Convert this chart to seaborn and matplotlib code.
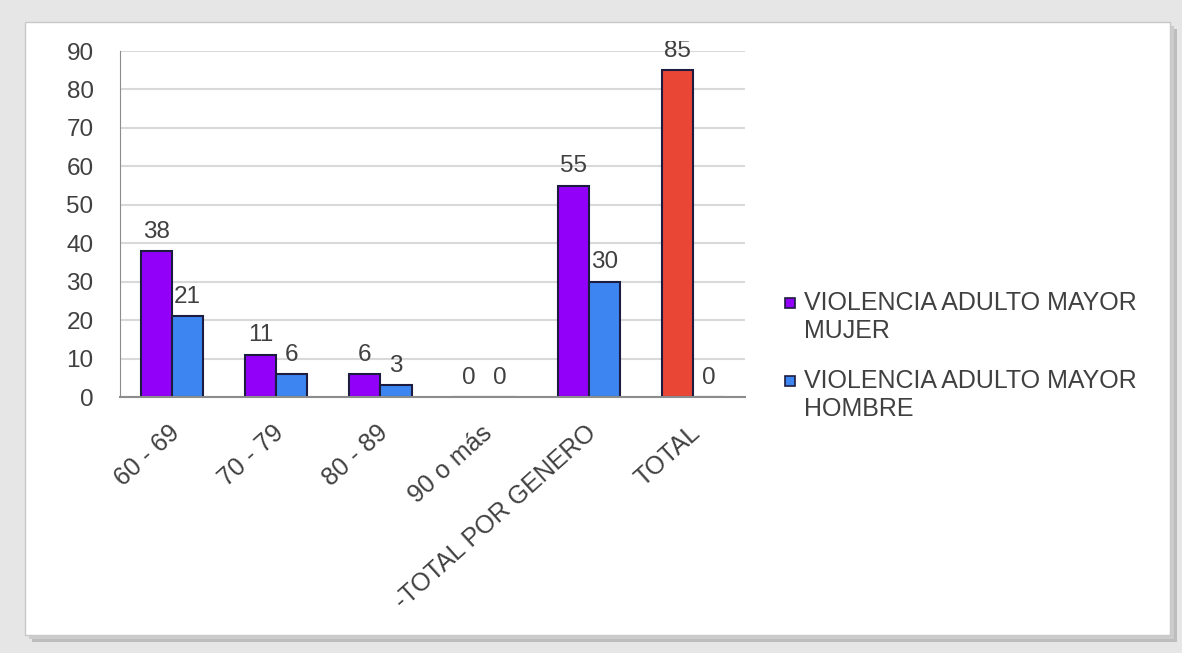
import pandas as pd
import seaborn as sns
import matplotlib.pyplot as plt
from matplotlib.patches import Rectangle
from matplotlib.transforms import Bbox, TransformedBbox, ScaledTranslation

# Data
categories = ["60 - 69", "70 - 79", "80 - 89", "90 o más", "-TOTAL POR GENERO", "TOTAL"]
mujer = [38, 11, 6, 0, 55, 85]
hombre = [21, 6, 3, 0, 30, 0]
series = ["VIOLENCIA ADULTO MAYOR\nMUJER", "VIOLENCIA ADULTO MAYOR\nHOMBRE"]

colors = ["#9200fa", "#3d86f2"]
total_color = "#ea4636"
edge = "#1c1c40"
text_color = "#404040"

df = pd.DataFrame({
    "categoria": categories * 2,
    "serie": [series[0]] * len(categories) + [series[1]] * len(categories),
    "valor": mujer + hombre,
})

sns.set_style("white")
plt.rcParams["font.family"] = ["Liberation Sans", "DejaVu Sans"]

fig = plt.figure(figsize=(11.82, 6.53), dpi=100)
fig.patch.set_facecolor("#e6e6e6")

# white card with a soft shadow
W, H = 1182, 653
for off, col in [(7, "#bdbdbd"), (4, "#cccccc")]:
    fig.add_artist(Rectangle(((25 + off) / W, 1 - (635 + off) / H), 1145 / W, 613 / H,
                             transform=fig.transFigure, facecolor=col, edgecolor="none", zorder=-3))
fig.add_artist(Rectangle((25 / W, 1 - 635 / H), 1145 / W, 613 / H,
                         transform=fig.transFigure, facecolor="white", edgecolor="#c8c8c8",
                         lw=1, zorder=-2))

ax = fig.add_axes([120 / W, 1 - 397 / H, 625 / W, 346 / H])
ax.set_facecolor("none")
ax.set_zorder(2)

sns.barplot(data=df, x="categoria", y="valor", hue="serie", order=categories,
            hue_order=series, palette=colors, saturation=1, width=0.6, gap=0,
            edgecolor=edge, linewidth=1.5, legend=False, ax=ax)

# the TOTAL bar is drawn in red in the original
ax.containers[0].patches[-1].set_facecolor(total_color)

# the chart area cuts the top of the highest label
clip = TransformedBbox(Bbox([[0, 0], [1, 1 - 41 / H]]), fig.transFigure)
for c in ax.containers:
    labels = ax.bar_label(c, padding=6, fontsize=17.5, color=text_color)
    for t in labels:
        t.set_clip_on(True)
        t.set_clip_box(clip)

ax.set_ylim(0, 90)
ax.set_yticks(range(0, 91, 10))
ax.yaxis.grid(True, color="#d9d9d9", lw=1.5)
ax.set_axisbelow(True)
for s in ["top", "right"]:
    ax.spines[s].set_visible(False)
ax.spines["left"].set_color("#8c8c8c")
ax.spines["bottom"].set_color("#8c8c8c")
ax.spines["bottom"].set_linewidth(1.5)
ax.tick_params(axis="y", labelsize=17.5, labelcolor=text_color, length=0, pad=19)
ax.tick_params(axis="x", labelsize=18, labelcolor=text_color, length=0, pad=17)
shift = ScaledTranslation(-4 / 100, 0, fig.dpi_scale_trans)
for lbl in ax.get_xticklabels():
    lbl.set_rotation(42)
    lbl.set_ha("right")
    lbl.set_rotation_mode("anchor")
    lbl.set_transform(lbl.get_transform() + shift)
ax.set_xlabel("")
ax.set_ylabel("")

# legend: small square next to the first line of each entry
for i, (name, col) in enumerate(zip(series, colors)):
    y = 1 - (303 + 78 * i) / H
    fig.add_artist(Rectangle((785 / W, y - 5 / H), 10 / W, 10 / H, transform=fig.transFigure,
                             facecolor=col, edgecolor=edge, lw=1.2))
    fig.text(804 / W, y + 12 / H, name, fontsize=18, color=text_color, va="top", ha="left",
             linespacing=1.2)

fig.savefig("out.png", dpi=100, facecolor=fig.get_facecolor())
